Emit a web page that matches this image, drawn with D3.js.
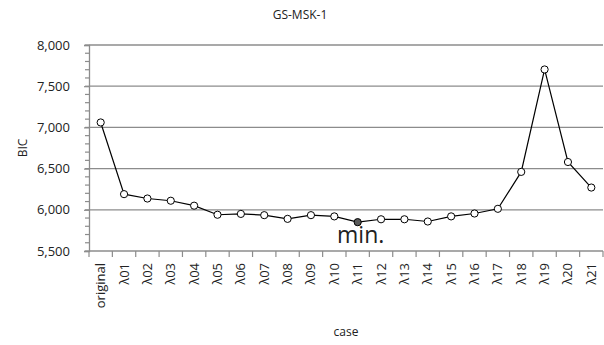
<!DOCTYPE html>
<meta charset="utf-8">
<style>
  body { margin: 0; background: #fff; }
  text { font-family: "Open Sans", "Noto Sans", sans-serif; fill: #222; }
  .grid line { stroke: #8c8c8c; stroke-width: 1.3; }
</style>
<svg width="604" height="345"></svg>
<script src="https://d3js.org/d3.v7.min.js"></script>
<script>
  // data
  var cases = ["original", "λ01", "λ02", "λ03", "λ04", "λ05", "λ06", "λ07", "λ08", "λ09", "λ10",
               "λ11", "λ12", "λ13", "λ14", "λ15", "λ16", "λ17", "λ18", "λ19", "λ20", "λ21"];
  var bic = [7060, 6190, 6137, 6110, 6050, 5940, 5950, 5935, 5890, 5935, 5920,
             5850, 5885, 5885, 5858, 5920, 5955, 6012, 6460, 7703, 6580, 6270];
  var yTicks = [5500, 6000, 6500, 7000, 7500, 8000];
  var minCase = "λ11";

  var svg = d3.select("svg"),
      margin = {top: 45, right: 1, bottom: 94, left: 89},
      width = +svg.attr("width") - margin.left - margin.right,
      height = +svg.attr("height") - margin.top - margin.bottom;

  var x = d3.scaleBand().domain(cases).range([0, width]),
      y = d3.scaleLinear().domain([5500, 8000]).range([height, 0]);

  var g = svg.append("g")
    .attr("transform", "translate(" + margin.left + "," + margin.top + ")");

  // gridlines
  g.append("g").attr("class", "grid")
    .selectAll("line").data(yTicks.slice(1)).enter().append("line")
    .attr("x1", 0).attr("x2", width)
    .attr("y1", function(d) { return y(d); })
    .attr("y2", function(d) { return y(d); });

  // minor ticks on y axis
  g.append("g").selectAll("line").data(d3.range(5500, 8001, 100)).enter().append("line")
    .attr("x1", -4).attr("x2", 0)
    .attr("y1", function(d) { return y(d); }).attr("y2", function(d) { return y(d); })
    .attr("stroke", "#8c8c8c").attr("stroke-width", 1.2);

  // y axis
  var yAxis = g.append("g")
    .call(d3.axisLeft(y).tickValues(yTicks).tickFormat(d3.format(",")).tickSize(5).tickPadding(14));
  yAxis.select(".domain").attr("stroke", "#8c8c8c").attr("stroke-width", 1.3);
  yAxis.selectAll(".tick line").attr("stroke", "#8c8c8c").attr("stroke-width", 1.2);
  yAxis.selectAll("text").style("font-size", "13px").attr("fill", "#222");

  // x axis: ticks between categories
  g.append("line")
    .attr("x1", 0).attr("x2", width).attr("y1", height).attr("y2", height)
    .attr("stroke", "#8c8c8c").attr("stroke-width", 1.3);
  g.append("g").selectAll("line").data(cases.concat(["end"])).enter().append("line")
    .attr("x1", function(d, i) { return i * x.step(); })
    .attr("x2", function(d, i) { return i * x.step(); })
    .attr("y1", height).attr("y2", height + 6)
    .attr("stroke", "#8c8c8c").attr("stroke-width", 1.2);
  g.append("g").selectAll("text").data(cases).enter().append("text")
    .attr("transform", function(d) {
      return "translate(" + (x(d) + x.bandwidth() / 2 + 4.5) + "," + (height + 12) + ") rotate(-90)";
    })
    .attr("text-anchor", "end")
    .style("font-size", "13px")
    .text(function(d) { return d; });

  // line + markers
  var pts = cases.map(function(c, i) { return {c: c, v: bic[i]}; });
  var cx = function(d) { return x(d.c) + x.bandwidth() / 2; };

  g.append("path").datum(pts)
    .attr("fill", "none").attr("stroke", "#000").attr("stroke-width", 1.2)
    .attr("d", d3.line().x(cx).y(function(d) { return y(d.v); }));

  g.selectAll(".pt").data(pts).enter().append("circle")
    .attr("class", "pt")
    .attr("cx", cx).attr("cy", function(d) { return y(d.v); })
    .attr("r", 3.6)
    .attr("fill", function(d) { return d.c === minCase ? "#5a5a5a" : "#fff"; })
    .attr("stroke", "#000").attr("stroke-width", 1);

  // min label
  var minPt = pts.filter(function(d) { return d.c === minCase; })[0];
  g.append("text")
    .attr("x", cx(minPt) + 3).attr("y", y(minPt.v) + 21)
    .attr("text-anchor", "middle")
    .style("font-size", "23px")
    .text("min.");

  // title and axis labels
  svg.append("text")
    .attr("x", 300).attr("y", 19)
    .attr("text-anchor", "middle")
    .style("font-size", "12px")
    .text("GS-MSK-1");

  svg.append("text")
    .attr("transform", "translate(27," + (margin.top + height / 2) + ") rotate(-90)")
    .attr("text-anchor", "middle")
    .style("font-size", "12px")
    .text("BIC");

  svg.append("text")
    .attr("x", margin.left + width / 2).attr("y", 336)
    .attr("text-anchor", "middle")
    .style("font-size", "12px")
    .text("case");
</script>
